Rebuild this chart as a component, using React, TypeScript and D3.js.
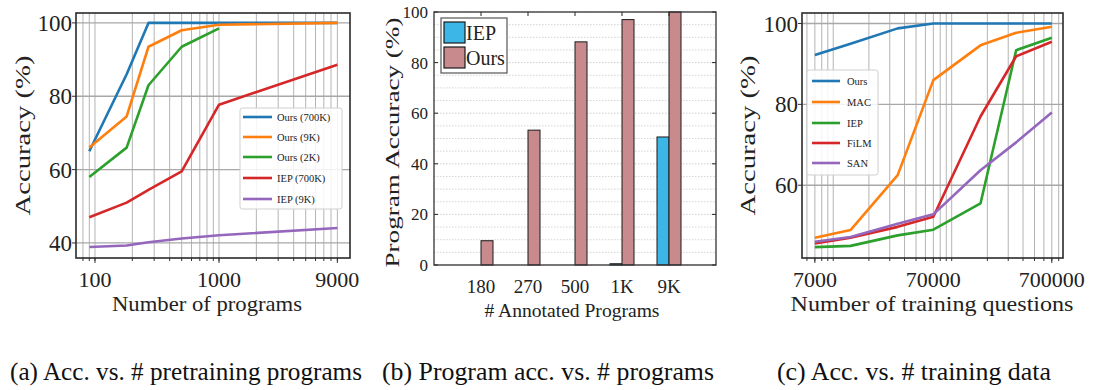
import React from 'react';
import * as d3 from 'd3';

const FONT = '"Liberation Serif", "Times New Roman", serif';

// ---------- Panel (a): accuracy vs. number of pretraining programs ----------
const pretrainPrograms = [90, 180, 270, 500, 1000, 9000];
const oursA700K = [65, 86, 100, 100, 100, 100];
const oursA9K = [66, 74.5, 93.5, 98, 99.5, 100];
const oursA2K = [58, 66, 83, 93.5, 98.5];
const iepA700K = [47, 51, 54.5, 59.5, 77.7, 88.6];
const iepA9K = [38.9, 39.3, 40.2, 41.2, 42.1, 44.1];
const seriesANames = ['Ours (700K)', 'Ours (9K)', 'Ours (2K)', 'IEP (700K)', 'IEP (9K)'];
const xTicksA = [100, 1000, 9000];
const yTicksA = [40, 60, 80, 100];

// ---------- Panel (b): program accuracy vs. number of annotated programs ----------
const annotatedLabels = ['180', '270', '500', '1K', '9K'];
const iepProgramAcc = [0, 0, 0, 0.5, 50.6];
const oursProgramAcc = [9.6, 53.3, 88.2, 97, 100];
const barSeriesNames = ['IEP', 'Ours'];
const yTicksB = [0, 20, 40, 60, 80, 100];

// ---------- Panel (c): accuracy vs. number of training questions ----------
const trainingQuestions = [7000, 14000, 35000, 70000, 175000, 350000, 700000];
const oursC = [92.2, 95, 98.8, 100, 100, 100, 100];
const macC = [47, 48.9, 62.5, 86, 94.6, 97.7, 99.2];
const iepC = [44.7, 45, 47.6, 49, 55.5, 93.4, 96.5];
const filmC = [45.6, 47, 49.7, 52.2, 77, 91.9, 95.5];
const sanC = [46, 47.2, 50.5, 52.8, 63.7, 70.6, 78];
const seriesCNames = ['Ours', 'MAC', 'IEP', 'FiLM', 'SAN'];
const xTicksC = [7000, 70000, 700000];
const yTicksC = [60, 80, 100];

const captions = [
  '(a) Acc. vs. # pretraining programs',
  '(b) Program acc. vs. # programs',
  '(c) Acc. vs. # training data',
];

const lineColors = ['#1f77b4', '#ff7f0e', '#2ca02c', '#d62728', '#9467bd'];
const barColors = ['#3bb6e6', '#c98a8d'];

type LogPanelProps = {
  left: number; right: number; top: number; bottom: number;
  xDomain: [number, number]; yDomain: [number, number];
  xs: number[]; series: number[][]; names: string[];
  xTicks: number[]; yTicks: number[];
  gridMax: number;
  legend: { x: number; y: number; w: number; h: number; rowY: number[]; lx0: number; lx1: number; tx: number };
  xLabel: string; xLabelLen: number; xLabelY: number; xLabelX: number;
  yLabelX: number;
};

function minorValues(domain: [number, number], gridMax: number) {
  const out: number[] = [];
  const d0 = Math.floor(Math.log10(domain[0]));
  const d1 = Math.ceil(Math.log10(domain[1]));
  for (let d = d0; d <= d1; d++) {
    for (let k = 1; k <= 9; k++) {
      const v = k * Math.pow(10, d);
      if (v > domain[0] * 1.02 && v < domain[1] && v <= gridMax) out.push(v);
    }
  }
  return out;
}

function LogPanel(p: LogPanelProps) {
  const x = d3.scaleLog().domain(p.xDomain).range([p.left, p.right]);
  const y = d3.scaleLinear().domain(p.yDomain).range([p.bottom, p.top]);
  const minors = minorValues(p.xDomain, p.gridMax);
  const line = d3
    .line<[number, number]>()
    .x((d) => x(d[0]))
    .y((d) => y(d[1]));
  const cy = (p.top + p.bottom) / 2;
  return (
    <g>
      <rect x={p.left} y={p.top} width={p.right - p.left} height={p.bottom - p.top} fill="#fff" />
      {minors.map((v) => (
        <line key={'vg' + v} x1={x(v)} x2={x(v)} y1={p.top} y2={p.bottom} stroke="#b4b4b4" strokeWidth={1} />
      ))}
      {p.yTicks.map((v) => (
        <line key={'hg' + v} x1={p.left} x2={p.right} y1={y(v)} y2={y(v)} stroke="#a8a8a8" strokeWidth={1.3} />
      ))}
      {p.series.map((s, i) => (
        <path
          key={'s' + i}
          d={line(s.map((v, j) => [p.xs[j], v] as [number, number])) || ''}
          fill="none"
          stroke={lineColors[i]}
          strokeWidth={2.6}
          strokeLinejoin="round"
          strokeLinecap="butt"
        />
      ))}
      {/* legend */}
      <rect x={p.legend.x} y={p.legend.y} width={p.legend.w} height={p.legend.h} rx={2.5}
        fill="#fff" fillOpacity={0.85} stroke="#cfcfcf" strokeWidth={1} />
      {p.names.map((n, i) => (
        <g key={'lg' + n}>
          <line x1={p.legend.lx0} x2={p.legend.lx1} y1={p.legend.rowY[i]} y2={p.legend.rowY[i]}
            stroke={lineColors[i]} strokeWidth={2.6} />
          <text x={p.legend.tx} y={p.legend.rowY[i]} dy="0.35em" fontSize={10.5} fontFamily={FONT} fill="#222">
            {n}
          </text>
        </g>
      ))}
      {/* ticks */}
      {minors.map((v) => (
        <line key={'mt' + v} x1={x(v)} x2={x(v)} y1={p.bottom} y2={p.bottom + 3} stroke="#333" strokeWidth={1} />
      ))}
      {p.xTicks.map((v) => (
        <g key={'xt' + v}>
          <line x1={x(v)} x2={x(v)} y1={p.bottom} y2={p.bottom + 5} stroke="#333" strokeWidth={1} />
          <text x={x(v)} y={p.bottom + 29} textAnchor="middle" fontSize={22} fontFamily={FONT} fill="#222">
            {v}
          </text>
        </g>
      ))}
      {p.yTicks.map((v) => (
        <g key={'yt' + v}>
          <line x1={p.left - 4} x2={p.left} y1={y(v)} y2={y(v)} stroke="#333" strokeWidth={1} />
          <text x={p.left - 4} y={y(v)} dy="0.35em" textAnchor="end" fontSize={23} fontFamily={FONT} fill="#222">
            {v}
          </text>
        </g>
      ))}
      <rect x={p.left} y={p.top} width={p.right - p.left} height={p.bottom - p.top} fill="none" stroke="#2a2a2a" strokeWidth={1.6} />
      <text x={p.xLabelX} y={p.xLabelY} textAnchor="middle" fontSize={22} fontFamily={FONT} fill="#222"
        textLength={p.xLabelLen} lengthAdjust="spacingAndGlyphs">
        {p.xLabel}
      </text>
      <text transform={`translate(${p.yLabelX},${cy}) rotate(-90)`} textAnchor="middle" dy="0.35em"
        fontSize={21} fontFamily={FONT} fill="#222" textLength={160} lengthAdjust="spacingAndGlyphs">
        Accuracy (%)
      </text>
    </g>
  );
}

function BarPanel() {
  const left = 434, right = 716, top = 12, bottom = 265;
  const x = d3.scaleLinear().domain([0, annotatedLabels.length + 1]).range([left, right]);
  const y = d3.scaleLinear().domain([0, 100]).range([bottom, top]);
  const barW = 12;
  const minorY = d3.range(5, 100, 5).filter((v) => v % 20 !== 0);
  const seriesVals = [iepProgramAcc, oursProgramAcc];
  return (
    <g>
      <rect x={left} y={top} width={right - left} height={bottom - top} fill="#fff" />
      {minorY.map((v) => (
        <line key={'mg' + v} x1={left} x2={right} y1={y(v)} y2={y(v)} stroke="#d4d4d4" strokeWidth={1} strokeDasharray="1.5,1.5" />
      ))}
      {yTicksB.map((v) => (
        <line key={'g' + v} x1={left} x2={right} y1={y(v)} y2={y(v)} stroke="#cfcfcf" strokeWidth={1} strokeDasharray="1.5,1.5" />
      ))}
      {annotatedLabels.map((lab, i) => {
        const c = x(i + 1);
        return (
          <g key={lab}>
            {seriesVals.map((vals, k) => (
              <rect key={k} x={c - barW + k * barW} y={y(vals[i])} width={barW} height={y(0) - y(vals[i])}
                fill={barColors[k]} stroke="#1a1a1a" strokeWidth={1} />
            ))}
            <line x1={c} x2={c} y1={top} y2={top + 4} stroke="#222" strokeWidth={1} />
            <text x={c} y={bottom + 28} textAnchor="middle" fontSize={19} fontFamily={FONT} fill="#222">
              {lab}
            </text>
          </g>
        );
      })}
      {yTicksB.map((v) => (
        <g key={'yt' + v}>
          <line x1={left} x2={left + 4} y1={y(v)} y2={y(v)} stroke="#222" strokeWidth={1} />
          <line x1={right - 4} x2={right} y1={y(v)} y2={y(v)} stroke="#222" strokeWidth={1} />
          <text x={left - 6} y={y(v)} dy="0.35em" textAnchor="end" fontSize={17} fontFamily={FONT} fill="#222">
            {v}
          </text>
        </g>
      ))}
      <rect x={left} y={top} width={right - left} height={bottom - top} fill="none" stroke="#333" strokeWidth={1.3} />
      {/* legend */}
      <rect x={441} y={18} width={66} height={55} fill="#fff" stroke="#555" strokeWidth={1.2} />
      {barSeriesNames.map((n, k) => (
        <g key={n}>
          <rect x={444} y={22 + k * 25} width={21} height={21} fill={barColors[k]} stroke="#1a1a1a" strokeWidth={1.2} />
          <text x={466} y={32.5 + k * 25} dy="0.35em" fontSize={20} fontFamily={FONT} fill="#222">
            {n}
          </text>
        </g>
      ))}
      <text x={572} y={317} textAnchor="middle" fontSize={19} fontFamily={FONT} fill="#222"
        textLength={175} lengthAdjust="spacingAndGlyphs">
        # Annotated Programs
      </text>
      <text transform={`translate(392,${(top + bottom) / 2 + 4}) rotate(-90)`} textAnchor="middle" dy="0.35em"
        fontSize={19} fontFamily={FONT} fill="#222" textLength={250} lengthAdjust="spacingAndGlyphs">
        Program Accuracy (%)
      </text>
    </g>
  );
}

export default function App() {
  const captionSpans: [number, number][] = [[10, 362], [382, 714], [777, 1051]];
  return (
    <svg width={1093} height={390} viewBox="0 0 1093 390"
      style={{ position: 'absolute', left: 0, top: 0, background: '#fff' }}>
      <rect width={1093} height={390} fill="#fff" />
      <LogPanel
        left={76} right={350} top={13} bottom={258}
        xDomain={[70.3, 11380]} yDomain={[35.9, 102.7]}
        xs={pretrainPrograms}
        series={[oursA700K, oursA9K, oursA2K, iepA700K, iepA9K]}
        names={seriesANames}
        xTicks={xTicksA} yTicks={yTicksA}
        gridMax={9000}
        legend={{ x: 240, y: 108, w: 102, h: 101, rowY: [117, 137, 157, 178, 199], lx0: 243, lx1: 272, tx: 277 }}
        xLabel="Number of programs" xLabelLen={190} xLabelY={311} xLabelX={207}
        yLabelX={23}
      />
      <BarPanel />
      <LogPanel
        left={802} right={1063} top={13} bottom={258}
        xDomain={[5450, 870000]} yDomain={[42, 102.6]}
        xs={trainingQuestions}
        series={[oursC, macC, iepC, filmC, sanC]}
        names={seriesCNames}
        xTicks={xTicksC} yTicks={yTicksC}
        gridMax={900000}
        legend={{ x: 807, y: 70, w: 71, h: 105, rowY: [81, 102, 123, 143, 163], lx0: 812, lx1: 840, tx: 847 }}
        xLabel="Number of training questions" xLabelLen={283} xLabelY={311} xLabelX={932}
        yLabelX={748}
      />
      {captions.map((c, i) => (
        <text key={c} x={captionSpans[i][0]} y={380} fontSize={26} fontFamily={FONT} fill="#111"
          textLength={captionSpans[i][1] - captionSpans[i][0]} lengthAdjust="spacingAndGlyphs">
          {c}
        </text>
      ))}
    </svg>
  );
}
